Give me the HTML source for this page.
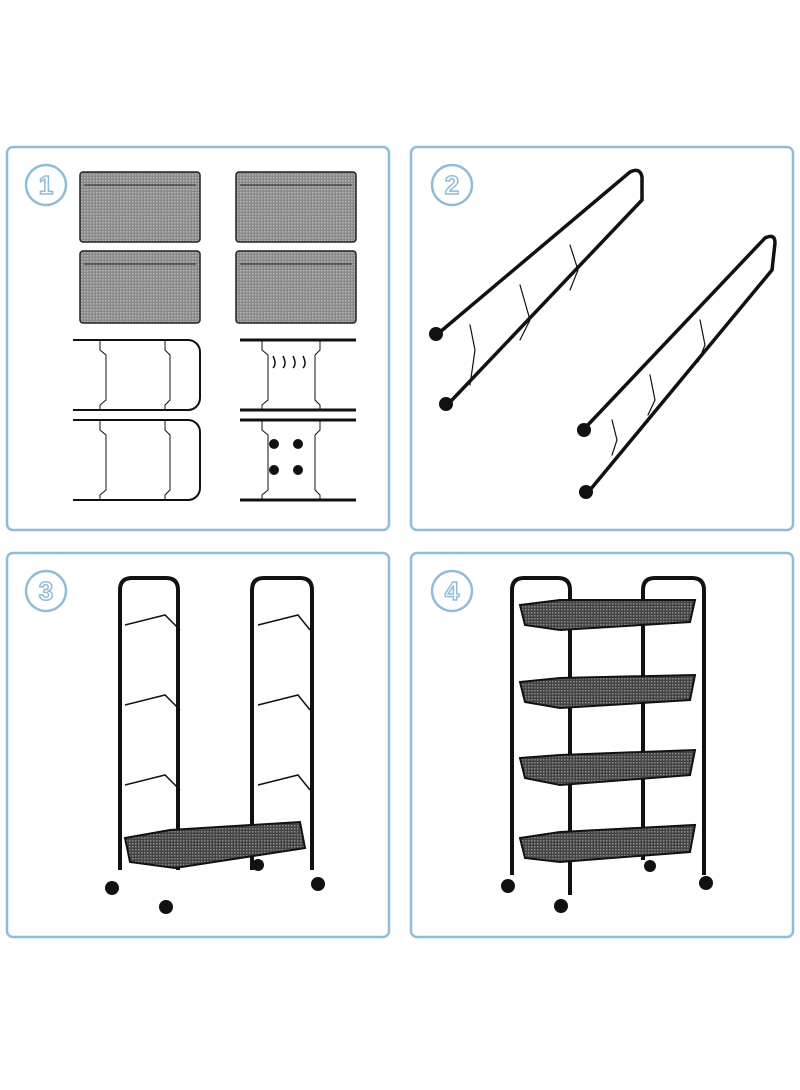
<!DOCTYPE html>
<html><head><meta charset="utf-8"><style>
html,body{margin:0;padding:0;background:#fff;width:800px;height:1090px;overflow:hidden}
svg{display:block}
</style></head><body>
<svg width="800" height="1090" viewBox="0 0 800 1090" xmlns="http://www.w3.org/2000/svg">
<defs>
<pattern id="mesh" width="3" height="3" patternUnits="userSpaceOnUse">
<rect width="3" height="3" fill="#8a8a8a"/><rect width="1.5" height="1.5" fill="#b5b5b5"/>
</pattern>
<pattern id="dmesh" width="3" height="3" patternUnits="userSpaceOnUse">
<rect width="3" height="3" fill="#444"/><rect width="1.5" height="1.5" fill="#888"/>
</pattern>
</defs>
<g fill="none" stroke="#8fbdd6" stroke-width="2.5">
<rect x="7" y="147" width="382" height="383" rx="6"/>
<rect x="411" y="147" width="382" height="383" rx="6"/>
<rect x="7" y="553" width="382" height="384" rx="6"/>
<rect x="411" y="553" width="382" height="384" rx="6"/>
</g>
<g font-family="Liberation Sans, sans-serif" font-size="26" font-weight="bold" fill="#fff" stroke="#8fbdd6" stroke-width="1.5" text-anchor="middle">
<circle cx="46" cy="185" r="20" fill="none" stroke-width="2.5"/><text x="46" y="194">1</text>
<circle cx="452" cy="185" r="20" fill="none" stroke-width="2.5"/><text x="452" y="194">2</text>
<circle cx="46" cy="591" r="20" fill="none" stroke-width="2.5"/><text x="46" y="600">3</text>
<circle cx="452" cy="591" r="20" fill="none" stroke-width="2.5"/><text x="452" y="600">4</text>
</g>
<!-- Panel 1 trays -->
<g stroke="#222" stroke-width="1.5" fill="url(#mesh)">
<rect x="80" y="172" width="120" height="70" rx="3"/>
<rect x="80" y="251" width="120" height="72" rx="3"/>
<rect x="236" y="172" width="120" height="70" rx="3"/>
<rect x="236" y="251" width="120" height="72" rx="3"/>
</g>
<g stroke="#222" stroke-width="1" fill="none">
<path d="M84 185 H196 M84 264 H196 M240 185 H352 M240 264 H352"/>
</g>
<g stroke="#111" stroke-width="2" fill="none">
<path d="M73 340 H188 a12 12 0 0 1 12 12 V398 a12 12 0 0 1 -12 12 H73"/>
<path d="M73 420 H188 a12 12 0 0 1 12 12 V488 a12 12 0 0 1 -12 12 H73"/>
<path d="M100 340 V350 L106 355 V400 L100 405 V410 M165 340 V350 L170 355 V400 L165 405 V410" stroke-width="1"/>
<path d="M100 420 V430 L106 435 V490 L100 495 V500 M165 420 V430 L170 435 V490 L165 495 V500" stroke-width="1"/>
<path d="M240 340 H356 M240 410 H356 M240 420 H356 M240 500 H356" stroke-width="3"/>
<path d="M262 340 V350 L268 355 V400 L262 405 V410 M320 340 V350 L315 355 V400 L320 405 V410 M262 420 V430 L268 435 V490 L262 495 V500 M320 420 V430 L315 435 V490 L320 495 V500" stroke-width="1"/>
<path d="M273 356 q4 8 0 12 M283 356 q4 8 0 12 M293 356 q4 8 0 12 M303 356 q4 8 0 12" stroke-width="1.5"/>
</g>
<g fill="#111">
<circle cx="274" cy="444" r="5"/><circle cx="298" cy="444" r="5"/><circle cx="274" cy="470" r="5"/><circle cx="298" cy="470" r="5"/>
</g>
<!-- Panel 2 rails -->
<g stroke="#111" stroke-width="3.5" fill="none" stroke-linecap="round">
<path d="M440 332 L630 172 q10 -5 12 5 L642 200 L452 400"/>
<path d="M585 428 L765 238 q10 -5 10 5 L772 270 L590 490"/>
<path d="M470 325 L475 350 L470 385 M520 285 L530 320 L520 340 M570 245 L578 270 L570 290" stroke-width="1.2"/>
<path d="M612 420 L617 440 L612 455 M650 375 L655 400 L648 415 M700 320 L705 345 L698 362" stroke-width="1.2"/>
</g>
<g fill="#111">
<circle cx="436" cy="334" r="7"/><circle cx="446" cy="404" r="7"/><circle cx="584" cy="430" r="7"/><circle cx="586" cy="492" r="7"/>
</g>
<!-- Panel 3 -->
<g stroke="#111" stroke-width="4" fill="none">
<path d="M120 870 V590 q0 -12 12 -12 H166 q12 0 12 12 V870"/>
<path d="M252 870 V590 q0 -12 12 -12 H300 q12 0 12 12 V870"/>
<path d="M125 625 L165 615 L180 630 M125 705 L165 695 L180 710 M125 785 L165 775 L180 790 M258 625 L298 615 L310 630 M258 705 L298 695 L310 710 M258 785 L298 775 L310 790" stroke-width="1.5"/>
</g>
<path d="M125 838 L170 830 L300 822 L305 848 L175 868 L130 862 Z" fill="url(#dmesh)" stroke="#111" stroke-width="2"/>
<g fill="#111"><circle cx="112" cy="888" r="7"/><circle cx="166" cy="907" r="7"/><circle cx="318" cy="884" r="7"/><circle cx="258" cy="865" r="6"/></g>
<!-- Panel 4 -->
<g stroke="#111" stroke-width="4" fill="none">
<path d="M512 875 V590 q0 -12 12 -12 H558 q12 0 12 12 V895"/>
<path d="M643 860 V590 q0 -12 12 -12 H692 q12 0 12 12 V875"/>
</g>
<g fill="url(#dmesh)" stroke="#111" stroke-width="2">
<path d="M520 605 L560 600 L695 600 L690 622 L560 630 L525 625 Z"/>
<path d="M520 682 L560 678 L695 675 L690 700 L560 708 L525 702 Z"/>
<path d="M520 758 L560 755 L695 750 L690 775 L560 785 L525 778 Z"/>
<path d="M520 838 L560 832 L695 825 L690 852 L560 862 L525 858 Z"/>
</g>
<g fill="#111"><circle cx="508" cy="886" r="7"/><circle cx="561" cy="906" r="7"/><circle cx="706" cy="883" r="7"/><circle cx="650" cy="866" r="6"/></g>
</svg>
</body></html>
